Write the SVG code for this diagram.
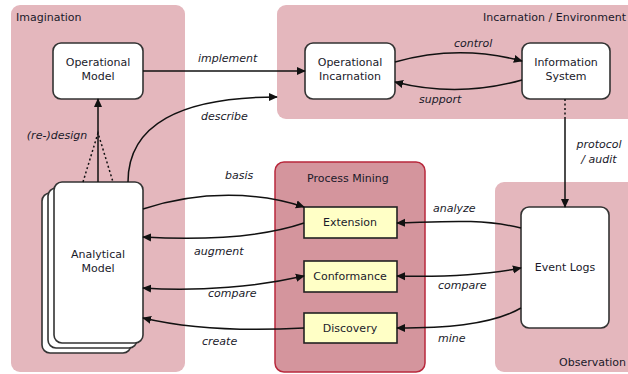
<svg xmlns="http://www.w3.org/2000/svg" width="628" height="374" viewBox="0 0 628 374">
<defs>
<style>
text{font-family:"DejaVu Sans",sans-serif;font-size:11px;fill:#1a1a2a}
.lbl{font-style:italic}
.c{text-anchor:middle}
.e{text-anchor:end}
.region{fill:#e4b7bd;stroke:none}
.pm{fill:#d4959d;stroke:#b8283c;stroke-width:1.5}
.node{fill:#fff;stroke:#333;stroke-width:1.6}
.step{fill:#ffffc6;stroke:#222;stroke-width:1.6}
.edge{fill:none;stroke:#111;stroke-width:1.5}
.dot{fill:none;stroke:#111;stroke-width:1.5;stroke-dasharray:2 2.5}
</style>
<marker id="ah" viewBox="0 0 10 10" refX="9" refY="5" markerWidth="9" markerHeight="9" markerUnits="userSpaceOnUse" orient="auto-start-reverse">
<path d="M0,0.5 L10,5 L0,9.5 Z" fill="#111"/>
</marker>
</defs>
<rect width="628" height="374" fill="#fff"/>
<g id="imagination">
<rect class="region" x="11" y="5" width="174" height="367" rx="9"/>
<text x="16" y="21">Imagination</text>
</g>
<g id="incarnation">
<rect class="region" x="277" y="5" width="360" height="114" rx="9"/>
<text class="e" x="626" y="21">Incarnation / Environment</text>
</g>
<g id="observation">
<rect class="region" x="495" y="182" width="142" height="190" rx="9"/>
<text class="e" x="626" y="366">Observation</text>
</g>
<g id="process-mining">
<rect class="pm" x="275" y="162" width="150" height="210" rx="9"/>
<text x="307" y="182">Process Mining</text>
</g>
<g id="operational-model">
<rect class="node" x="53" y="43" width="90" height="56" rx="8"/>
<text class="c" x="98" y="66">Operational</text>
<text class="c" x="98" y="80">Model</text>
</g>
<g id="operational-incarnation">
<rect class="node" x="305" y="43" width="90" height="56" rx="8"/>
<text class="c" x="350" y="66">Operational</text>
<text class="c" x="350" y="80">Incarnation</text>
</g>
<g id="information-system">
<rect class="node" x="522" y="43" width="88" height="56" rx="8"/>
<text class="c" x="566" y="66">Information</text>
<text class="c" x="566" y="80">System</text>
</g>
<g id="analytical-model">
<rect class="node" x="42" y="193" width="89" height="160" rx="8"/>
<rect class="node" x="48" y="188" width="89" height="160" rx="8"/>
<rect class="node" x="54" y="182" width="89" height="161" rx="8"/>
<text class="c" x="98" y="258">Analytical</text>
<text class="c" x="98" y="272">Model</text>
</g>
<g id="extension">
<rect class="step" x="304" y="207" width="93" height="31"/>
<text class="c" x="350" y="226">Extension</text>
</g>
<g id="conformance">
<rect class="step" x="304" y="261" width="93" height="31"/>
<text class="c" x="350" y="280">Conformance</text>
</g>
<g id="discovery">
<rect class="step" x="304" y="313" width="93" height="30"/>
<text class="c" x="350" y="332">Discovery</text>
</g>
<g id="event-logs">
<rect class="node" x="521" y="207" width="88" height="121" rx="8"/>
<text class="c" x="565" y="271">Event Logs</text>
</g>
<g id="connectors">
<path class="edge" d="M143,71 L305,71" marker-end="url(#ah)"/>
<path class="edge" d="M128,182 C128,125 180,97 277,97" marker-end="url(#ah)"/>
<path class="edge" d="M98,182 L98,99" marker-end="url(#ah)"/>
<path class="dot" d="M83,182 L98,133 L113,182"/>
<path class="edge" d="M395,62 Q458,44 522,61" marker-end="url(#ah)"/>
<path class="edge" d="M522,80 Q458,98 395,82" marker-end="url(#ah)"/>
<path class="dot" d="M565,99 L565,118"/>
<path class="edge" d="M565,118 L565,207" marker-end="url(#ah)"/>
<path class="edge" d="M143,209 C200,190 260,192 304,207" marker-end="url(#ah)"/>
<path class="edge" d="M304,223 C260,238 200,240 143,237" marker-end="url(#ah)"/>
<path class="edge" d="M143,288 C200,292 260,286 304,276" marker-start="url(#ah)" marker-end="url(#ah)"/>
<path class="edge" d="M304,328 C250,331 190,329 143,318" marker-end="url(#ah)"/>
<path class="edge" d="M521,228 C480,218 440,222 397,223" marker-end="url(#ah)"/>
<path class="edge" d="M397,276 C440,277 480,276 521,268" marker-start="url(#ah)" marker-end="url(#ah)"/>
<path class="edge" d="M521,308 C490,326 440,328 397,328" marker-end="url(#ah)"/>
<text class="lbl" x="198" y="62">implement</text>
<text class="lbl" x="201" y="120">describe</text>
<text class="lbl c" x="57" y="139">(re-)design</text>
<text class="lbl" x="454" y="47">control</text>
<text class="lbl" x="419" y="103">support</text>
<text class="lbl c" x="599" y="148">protocol</text>
<text class="lbl c" x="599" y="163">/ audit</text>
<text class="lbl" x="225" y="179">basis</text>
<text class="lbl" x="194" y="255">augment</text>
<text class="lbl" x="208" y="297">compare</text>
<text class="lbl" x="202" y="345">create</text>
<text class="lbl" x="433" y="212">analyze</text>
<text class="lbl" x="438" y="289">compare</text>
<text class="lbl" x="438" y="342">mine</text>
</g>
</svg>
